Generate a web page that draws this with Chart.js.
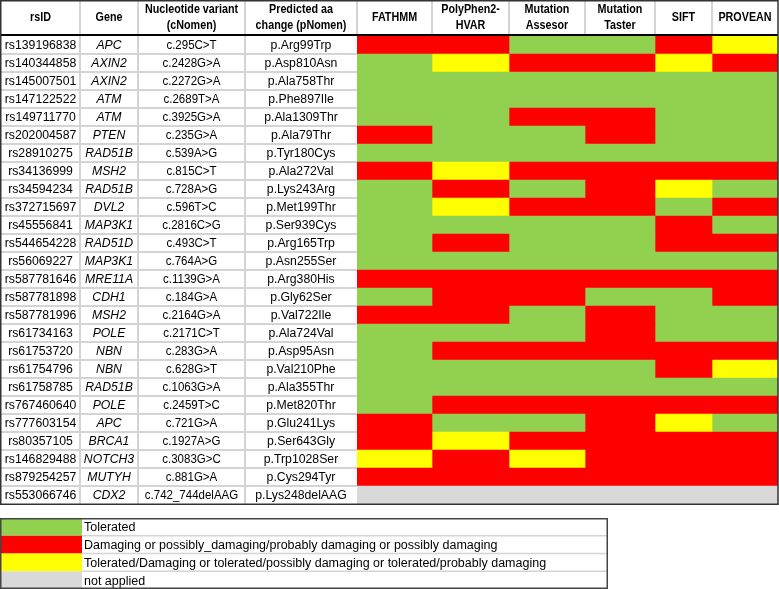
<!DOCTYPE html>
<html>
<head>
<meta charset="utf-8">
<script src="https://cdn.jsdelivr.net/npm/chart.js@4/dist/chart.umd.min.js"></script>
<style>
  html, body { margin: 0; padding: 0; background: #fff; }
  #wrap { width: 779px; height: 589px; position: relative; }
</style>
</head>
<body>
<div id="wrap"><canvas id="c" width="779" height="589"></canvas></div>
<script>
// ---------- data ----------
const rsIDs = ['rs139196838','rs140344858','rs145007501','rs147122522','rs149711770','rs202004587','rs28910275','rs34136999','rs34594234','rs372715697','rs45556841','rs544654228','rs56069227','rs587781646','rs587781898','rs587781996','rs61734163','rs61753720','rs61754796','rs61758785','rs767460640','rs777603154','rs80357105','rs146829488','rs879254257','rs553066746'];
const genes = ['APC','AXIN2','AXIN2','ATM','ATM','PTEN','RAD51B','MSH2','RAD51B','DVL2','MAP3K1','RAD51D','MAP3K1','MRE11A','CDH1','MSH2','POLE','NBN','NBN','RAD51B','POLE','APC','BRCA1','NOTCH3','MUTYH','CDX2'];
const cNomen = ['c.295C>T','c.2428G>A','c.2272G>A','c.2689T>A','c.3925G>A','c.235G>A','c.539A>G','c.815C>T','c.728A>G','c.596T>C','c.2816C>G','c.493C>T','c.764A>G','c.1139G>A','c.184G>A','c.2164G>A','c.2171C>T','c.283G>A','c.628G>T','c.1063G>A','c.2459T>C','c.721G>A','c.1927A>G','c.3083G>C','c.881G>A','c.742_744delAAG'];
const pNomen = ['p.Arg99Trp','p.Asp810Asn','p.Ala758Thr','p.Phe897Ile','p.Ala1309Thr','p.Ala79Thr','p.Tyr180Cys','p.Ala272Val','p.Lys243Arg','p.Met199Thr','p.Ser939Cys','p.Arg165Trp','p.Asn255Ser','p.Arg380His','p.Gly62Ser','p.Val722Ile','p.Ala724Val','p.Asp95Asn','p.Val210Phe','p.Ala355Thr','p.Met820Thr','p.Glu241Lys','p.Ser643Gly','p.Trp1028Ser','p.Cys294Tyr','p.Lys248delAAG'];

const tools = ['FATHMM','PolyPhen2-HVAR','Mutation Assesor','Mutation Taster','SIFT','PROVEAN'];
// T = tolerated, D = damaging, TD = tolerated/damaging, NA = not applied
const fathmm    = ['D','T','T','T','T','D','T','D','T','T','T','T','T','D','T','D','T','T','T','T','T','D','D','TD','D','NA'];
const polyphen  = ['D','TD','T','T','T','T','T','TD','D','TD','T','D','T','D','D','D','T','D','T','T','D','T','TD','D','D','NA'];
const mutAss    = ['T','D','T','T','D','T','T','D','T','D','T','T','T','D','D','T','T','D','T','T','D','T','D','TD','D','NA'];
const mutTaster = ['T','D','T','T','D','D','T','D','D','D','T','T','T','D','T','D','D','D','T','T','D','D','D','D','D','NA'];
const sift      = ['D','TD','T','T','T','T','T','D','TD','T','D','D','T','D','T','T','T','D','D','T','D','TD','D','D','D','NA'];
const provean   = ['TD','D','T','T','T','T','T','D','T','D','T','D','T','D','D','T','T','D','TD','T','D','T','D','D','D','NA'];
const predictions = [fathmm, polyphen, mutAss, mutTaster, sift, provean];

const legendCodes = ['T','D','TD','NA'];
const legendLabels = ['Tolerated','Damaging or possibly_damaging/probably damaging or possibly damaging','Tolerated/Damaging or tolerated/possibly damaging or tolerated/probably damaging','not applied'];

// ---------- styles / layout ----------
const codeColors = { T: '#92d050', D: '#ff0000', TD: '#ffff00', NA: '#d9d9d9' };
const FONT = '"Liberation Sans", Arial, sans-serif';
const leftHeaders = [['rsID'], ['Gene'], ['Nucleotide variant','(cNomen)'], ['Predicted aa','change (pNomen)']];
const toolHeaders = [['FATHMM'], ['PolyPhen2-','HVAR'], ['Mutation','Assesor'], ['Mutation','Taster'], ['SIFT'], ['PROVEAN']];
const leftEdges = [1, 80, 138, 245, 357];
const colWidthWeights = [75, 77, 76, 70, 57, 66];   // relative column widths (style)
const colStarts = colWidthWeights.map((w, j) => colWidthWeights.slice(0, j).reduce((a, b) => a + b, 0));
const colTotal = colWidthWeights.reduce((a, b) => a + b, 0);

const datasets = tools.map((t, j) => ({
  label: t,
  data: rsIDs.map(() => [colStarts[j], colStarts[j] + colWidthWeights[j]]),
  backgroundColor: predictions[j].map(c => codeColors[c]),
  borderWidth: 0,
  borderSkipped: false,
  barPercentage: 1,
  categoryPercentage: 1,
  grouped: false
}));

function squeezeText(ctx, text, x, y, sx) {
  ctx.save();
  ctx.translate(x, y);
  ctx.scale(sx, 1);
  ctx.fillText(text, 0, 0);
  ctx.restore();
}

const tablePlugin = {
  id: 'tablePlugin',
  beforeDatasetsDraw(chart) {
    const ctx = chart.ctx, y = chart.scales.y, ca = chart.chartArea;
    ctx.save();
    ctx.strokeStyle = '#d4d4d4';
    ctx.lineWidth = 2;
    const half = (y.getPixelForValue(1) - y.getPixelForValue(0)) / 2;
    for (let i = 1; i < rsIDs.length; i++) {
      const yy = Math.round(y.getPixelForValue(i) - half);
      ctx.beginPath(); ctx.moveTo(leftEdges[0], yy); ctx.lineTo(ca.left, yy); ctx.stroke();
    }
    for (let k = 1; k < leftEdges.length - 1; k++) {
      ctx.beginPath(); ctx.moveTo(leftEdges[k], 0); ctx.lineTo(leftEdges[k], ca.bottom); ctx.stroke();
    }
    ctx.restore();
  },
  afterDraw(chart) {
    const ctx = chart.ctx, y = chart.scales.y, x = chart.scales.x, ca = chart.chartArea;
    ctx.save();
    ctx.fillStyle = '#000';
    ctx.textBaseline = 'middle';
    ctx.textAlign = 'center';
    const cols = [rsIDs, genes, cNomen, pNomen];
    rsIDs.forEach((_, i) => {
      const yy = y.getPixelForValue(i) + 0.5;
      cols.forEach((arr, k) => {
        ctx.font = (k === 1 ? 'italic ' : '') + '12.5px ' + FONT;
        squeezeText(ctx, arr[i], (leftEdges[k] + leftEdges[k + 1]) / 2, yy, k === 2 ? 0.92 : 0.98);
      });
    });
    // headers
    ctx.font = 'bold 12.5px ' + FONT;
    const hMid = ca.top / 2;
    const drawHeader = (lines, cx) => {
      const lh = 16;
      lines.forEach((ln, n) => {
        squeezeText(ctx, ln, cx, hMid + (n - (lines.length - 1) / 2) * lh, 0.86);
      });
    };
    leftHeaders.forEach((h, k) => drawHeader(h, (leftEdges[k] + leftEdges[k + 1]) / 2));
    toolHeaders.forEach((h, j) => drawHeader(h, x.getPixelForValue(colStarts[j] + colWidthWeights[j] / 2)));
    // header column separators
    ctx.strokeStyle = '#d4d4d4';
    ctx.lineWidth = 2;
    for (let j = 1; j < tools.length; j++) {
      const xx = Math.round(x.getPixelForValue(colStarts[j]));
      ctx.beginPath(); ctx.moveTo(xx, 1); ctx.lineTo(xx, ca.top - 2); ctx.stroke();
    }
    ctx.beginPath(); ctx.moveTo(ca.left, 1); ctx.lineTo(ca.left, ca.top - 2); ctx.stroke();
    // header bottom line
    ctx.strokeStyle = '#000';
    ctx.lineWidth = 2;
    ctx.beginPath(); ctx.moveTo(0, ca.top - 1); ctx.lineTo(ca.right, ca.top - 1); ctx.stroke();
    // outer border
    ctx.lineWidth = 1.5;
    ctx.strokeStyle = '#333';
    ctx.strokeRect(0.75, 0.75, ca.right - 0.75, ca.bottom - 0.5);

    // legend
    const lx = 0, lw = 608, ly = 518, lh = 17.75, sw = 82;
    legendCodes.forEach((c, n) => {
      const top = ly + n * lh;
      ctx.fillStyle = codeColors[c];
      ctx.fillRect(lx, top, sw, lh);
      ctx.fillStyle = '#000';
      ctx.textAlign = 'left';
      ctx.font = '12.5px ' + FONT;
      ctx.fillText(legendLabels[n], lx + sw + 2, top + lh / 2 + 1);
      if (n > 0) {
        ctx.strokeStyle = '#d4d4d4';
        ctx.lineWidth = 1.5;
        ctx.beginPath(); ctx.moveTo(sw, top); ctx.lineTo(lw, top); ctx.stroke();
      }
    });
    ctx.strokeStyle = '#444';
    ctx.lineWidth = 1.5;
    ctx.strokeRect(lx + 0.75, ly + 0.75, lw - 1.5, lh * legendCodes.length - 1.5);
    ctx.restore();
  }
};

new Chart(document.getElementById('c'), {
  type: 'bar',
  data: { labels: rsIDs, datasets },
  options: {
    indexAxis: 'y',
    responsive: false,
    animation: false,
    layout: { padding: { left: 357, top: 36, right: 1, bottom: 85 } },
    scales: {
      x: { type: 'linear', min: 0, max: colTotal, display: false },
      y: { type: 'category', display: false, offset: true }
    },
    plugins: { legend: { display: false }, tooltip: { enabled: false } }
  },
  plugins: [tablePlugin]
});
</script>
</body>
</html>
